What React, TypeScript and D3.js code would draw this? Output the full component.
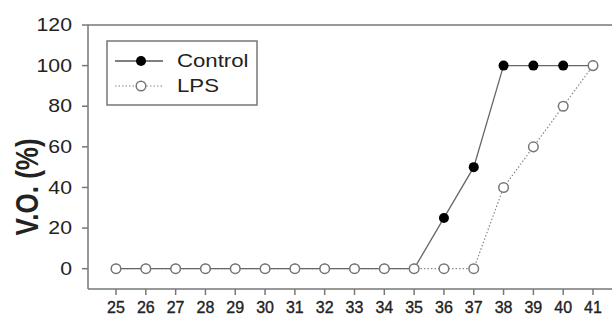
import React from 'react';
import * as d3 from 'd3';

const days = [25, 26, 27, 28, 29, 30, 31, 32, 33, 34, 35, 36, 37, 38, 39, 40, 41];
const controlValues = [0, 0, 0, 0, 0, 0, 0, 0, 0, 0, 0, 25, 50, 100, 100, 100, 100];
const lpsValues = [0, 0, 0, 0, 0, 0, 0, 0, 0, 0, 0, 0, 0, 40, 60, 80, 100];
const yTicks = [0, 20, 40, 60, 80, 100, 120];

const width = 612;
const height = 315;
const font = '"Liberation Sans", Arial, sans-serif';
// the source image is a bit stretched sideways
const stretch = 1.2;

export default function App() {
  const x = d3.scaleLinear().domain([25, 41]).range([116, 593]);
  const y = d3.scaleLinear().domain([-10, 120]).range([289, 25]);
  const left = 88;

  const line = d3.line<number>()
    .x((_, i) => x(days[i]))
    .y(d => y(d));

  return (
    <svg width={width} height={height} style={{ position: 'absolute', left: 0, top: 0, background: '#fff' }}>
      {/* frame */}
      <line x1={left} x2={width} y1={y(120)} y2={y(120)} stroke="#777" strokeWidth={1.5} />
      <line x1={left} x2={width} y1={y(-10)} y2={y(-10)} stroke="#777" strokeWidth={1.5} />
      <line x1={left} x2={left} y1={y(120)} y2={y(-10)} stroke="#777" strokeWidth={1.5} />

      {/* y axis */}
      {yTicks.map(t => (
        <g key={t}>
          <line x1={left - 6} x2={left} y1={y(t)} y2={y(t)} stroke="#777" strokeWidth={1.5} />
          <text transform={`translate(72,${y(t)}) scale(${stretch},1)`} dy="0.35em" textAnchor="end"
            fontFamily={font} fontSize={17.7} fill="#222">{t}</text>
        </g>
      ))}
      <text transform={`translate(38,187) scale(1.18,1) rotate(-90)`} textAnchor="middle" fontFamily={font}
        fontSize={26} fontWeight="bold" fill="#222">V.O. (%)</text>

      {/* x axis */}
      {days.map(d => (
        <g key={d}>
          <line x1={x(d)} x2={x(d)} y1={y(-10)} y2={y(-10) + 6} stroke="#777" strokeWidth={1.5} />
          <text x={x(d)} y={307.5} dy="0.35em" textAnchor="middle" fontFamily={font} fontSize={16}
            fill="#222" stroke="#222" strokeWidth={0.35}>{d}</text>
        </g>
      ))}

      {/* series lines */}
      <path d={line(lpsValues) || ''} fill="none" stroke="#888" strokeWidth={1.2} strokeDasharray="1.5,2" />
      <path d={line(controlValues) || ''} fill="none" stroke="#666" strokeWidth={1.3} />

      {/* markers */}
      {controlValues.map((v, i) => (
        <circle key={'c' + i} cx={x(days[i])} cy={y(v)} r={5} fill="#000" />
      ))}
      {lpsValues.map((v, i) => (
        <circle key={'l' + i} cx={x(days[i])} cy={y(v)} r={4.8} fill="#fff" stroke="#777" strokeWidth={1.5} />
      ))}

      {/* legend */}
      <rect x={107} y={41} width={150} height={64} fill="#fff" stroke="#777" strokeWidth={1.5} />
      <line x1={115} x2={163} y1={61} y2={61} stroke="#555" strokeWidth={1.3} />
      <circle cx={141} cy={61} r={5} fill="#000" />
      <text transform={`translate(177,61) scale(${stretch},1)`} dy="0.35em" fontFamily={font} fontSize={18.5} fill="#222">Control</text>
      <line x1={115} x2={163} y1={86} y2={86} stroke="#888" strokeWidth={1.2} strokeDasharray="1.5,2" />
      <circle cx={141} cy={86} r={4.8} fill="#fff" stroke="#777" strokeWidth={1.5} />
      <text transform={`translate(177,86) scale(${stretch},1)`} dy="0.35em" fontFamily={font} fontSize={18.5} fill="#222">LPS</text>
    </svg>
  );
}
